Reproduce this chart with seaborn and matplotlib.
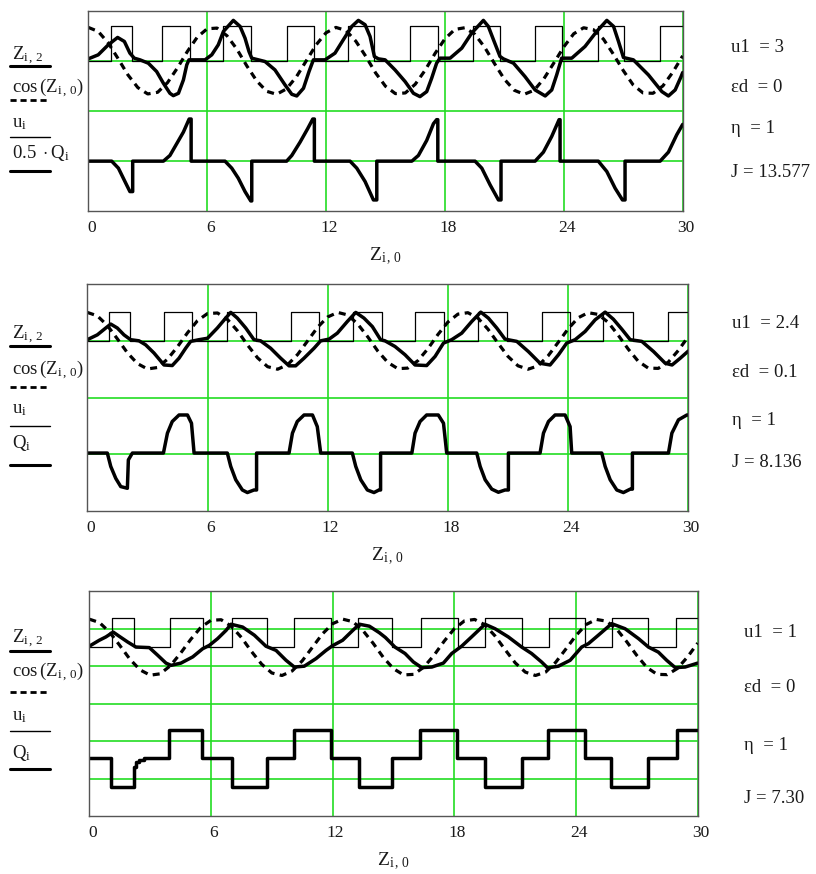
import matplotlib
matplotlib.use("Agg")
import matplotlib.pyplot as plt
import matplotlib.transforms as mtransforms
from matplotlib.lines import Line2D
import seaborn as sns

# cos(Z_i,0), read every 0.5 along Z_i,0 (same in all three panels)
COS_X = [0, 0.5, 1, 1.5, 2, 2.5, 3, 3.5, 4, 4.5, 5, 5.5, 6, 6.5, 7, 7.5, 8, 8.5, 9, 9.5,
         10, 10.5, 11, 11.5, 12, 12.5, 13, 13.5, 14, 14.5, 15, 15.5, 16, 16.5, 17, 17.5,
         18, 18.5, 19, 19.5, 20, 20.5, 21, 21.5, 22, 22.5, 23, 23.5, 24, 24.5, 25, 25.5,
         26, 26.5, 27, 27.5, 28, 28.5, 29, 29.5, 30]
COS_Y = [1.00, 0.88, 0.54, 0.07, -0.42, -0.80, -0.99, -0.94, -0.65, -0.21, 0.28, 0.71,
         0.96, 0.98, 0.75, 0.35, -0.15, -0.60, -0.91, -1.00, -0.84, -0.48, 0.00, 0.48,
         0.84, 1.00, 0.91, 0.59, 0.14, -0.36, -0.76, -0.98, -0.96, -0.70, -0.28, 0.22,
         0.66, 0.94, 0.99, 0.80, 0.41, -0.08, -0.55, -0.88, -1.00, -0.88, -0.53, -0.06,
         0.42, 0.81, 0.99, 0.93, 0.65, 0.20, -0.29, -0.72, -0.96, -0.97, -0.75, -0.34, 0.15]

# ---- panel 1 (u1 = 3) ----
P1_U_X = [0, 1.15, 2.19, 3.74, 5.13, 6.78, 8.20, 10.01, 11.41, 13.13, 14.44, 16.24, 17.67,
          19.44, 20.78, 22.55, 23.90, 25.74, 27.06, 28.86, 30]
P1_U_Y = [0, 1.05, 0, 1.05, 0, 1.05, 0, 1.05, 0, 1.05, 0, 1.05, 0, 1.05, 0, 1.05, 0, 1.05,
          0, 1.05, 1.05]
P1_Z_X = [0, 0.5, 1.01, 1.48, 1.82, 2.1, 2.32, 2.61, 3.03, 3.45, 3.79, 4.12, 4.29, 4.55,
          4.8, 4.97, 5.08, 5.89, 6.23, 6.56, 6.82, 7.32, 7.66, 7.91, 8.11, 8.25, 8.92, 9.42,
          9.93, 10.27, 10.52, 10.86, 11.14, 11.36, 11.95, 12.45, 12.87, 13.3, 13.63, 13.97,
          14.22, 14.44, 14.64, 14.98, 15.48, 15.99, 16.41, 16.74, 17.08, 17.33, 17.58,
          17.75, 18.26, 18.85, 19.35, 19.94, 20.19, 20.45, 20.78, 20.95, 21.46, 22.04,
          22.55, 23.06, 23.39, 23.64, 23.89, 24.4, 25.07, 25.66, 26.17, 26.51, 26.76,
          27.01, 27.51, 28.27, 28.95, 29.28, 29.62, 29.92, 30]
P1_Z_Y = [0.06, 0.18, 0.48, 0.70, 0.58, 0.23, 0.08, 0.03, -0.07, -0.32, -0.67, -0.97,
          -1.04, -0.97, -0.57, -0.12, 0.03, 0.03, 0.18, 0.48, 0.88, 1.21, 1.03, 0.68, 0.28,
          0.08, -0.02, -0.27, -0.72, -1.0, -1.05, -0.82, -0.32, 0.03, 0.03, 0.23, 0.63,
          1.03, 1.21, 1.08, 0.73, 0.13, 0.06, 0.03, -0.27, -0.62, -0.97, -1.07, -0.92,
          -0.52, -0.07, 0.08, 0.08, 0.38, 0.83, 1.21, 1.03, 0.63, 0.13, 0.06, -0.07, -0.47,
          -0.87, -1.05, -0.87, -0.42, 0.08, 0.08, 0.43, 0.88, 1.21, 1.03, 0.58, 0.10, 0.03,
          -0.42, -0.92, -1.05, -0.87, -0.47, -0.35]
P1_Q_X = [0, 1.18, 1.52, 1.85, 2.10, 2.24, 2.24, 3.79, 4.12, 4.46, 4.80, 5.09, 5.19, 5.19,
          6.90, 7.24, 7.57, 7.91, 8.20, 8.25, 8.25, 10.01, 10.27, 10.69, 11.07, 11.33,
          11.41, 11.41, 13.21, 13.55, 13.97, 14.39, 14.56, 14.56, 16.33, 16.66, 17.08,
          17.42, 17.58, 17.64, 17.64, 19.52, 19.86, 20.28, 20.70, 20.83, 20.83, 22.55,
          22.97, 23.39, 23.76, 23.81, 23.81, 25.74, 26.17, 26.59, 26.96, 27.09, 27.09,
          28.86, 29.28, 29.70, 30.0]
P1_Q_Y = [-3.0, -3.0, -3.21, -3.61, -3.91, -3.91, -3.0, -3.0, -2.83, -2.48, -2.13, -1.74,
          -1.74, -3.0, -3.0, -3.21, -3.51, -3.91, -4.19, -4.19, -3.0, -3.0, -2.83, -2.43,
          -2.03, -1.74, -1.74, -3.0, -3.0, -3.21, -3.61, -4.16, -4.16, -3.0, -3.0, -2.83,
          -2.38, -1.88, -1.76, -1.76, -3.0, -3.0, -3.21, -3.71, -4.16, -4.16, -3.0, -3.0,
          -2.73, -2.26, -1.76, -1.76, -3.0, -3.0, -3.31, -3.81, -4.16, -4.16, -3.0, -3.0,
          -2.73, -2.21, -1.9]

# ---- panel 2 (u1 = 2.4) ----
P2_U_X = [0, 1.08, 2.12, 3.83, 5.21, 6.99, 8.41, 10.15, 11.57, 13.28, 14.69, 16.36, 17.82,
          19.52, 20.94, 22.69, 24.07, 25.76, 27.26, 28.98, 30]
P2_U_Y = [0, 1.03, 0, 1.03, 0, 1.03, 0, 1.03, 0, 1.03, 0, 1.03, 0, 1.03, 0, 1.03, 0, 1.03,
          0, 1.03, 1.03]
P2_Z_X = [0, 0.5, 0.92, 1.17, 1.5, 1.83, 2.16, 2.58, 2.91, 3.33, 3.83, 4.24, 4.58, 4.91,
          5.16, 5.58, 6.0, 6.49, 6.91, 7.16, 7.49, 7.91, 8.32, 8.65, 9.15, 9.65, 10.07,
          10.4, 10.82, 11.32, 11.65, 12.07, 12.48, 12.98, 13.4, 13.81, 14.23, 14.64, 14.86,
          15.36, 15.86, 16.36, 16.94, 17.36, 17.78, 18.19, 18.69, 19.19, 19.64, 20.02,
          20.44, 20.85, 21.44, 22.02, 22.6, 23.1, 23.52, 23.93, 24.35, 24.85, 25.35, 25.85,
          26.26, 26.68, 27.1, 27.68, 28.27, 28.85, 29.19, 29.6, 30]
P2_Z_Y = [0.04, 0.21, 0.45, 0.59, 0.45, 0.21, 0.04, 0, -0.14, -0.43, -0.85, -0.87, -0.61,
          -0.26, -0.02, 0.04, 0.09, 0.45, 0.8, 1.0, 0.8, 0.45, 0.04, 0, -0.26, -0.61, -0.88,
          -0.88, -0.61, -0.26, 0, 0.06, 0.27, 0.68, 1.0, 0.8, 0.5, 0.04, 0, -0.2, -0.49,
          -0.85, -0.87, -0.55, -0.08, 0.04, 0.27, 0.68, 1.01, 0.8, 0.45, 0.06, -0.02, -0.38,
          -0.79, -0.85, -0.49, -0.08, 0.04, 0.33, 0.74, 1.01, 0.76, 0.41, 0.04, -0.02,
          -0.38, -0.79, -0.85, -0.61, -0.36]
P2_Q_X = [0, 1.0, 1.17, 1.42, 1.67, 2.0, 2.05, 2.25, 3.8, 4.0, 4.24, 4.58, 5.0, 5.2, 5.33,
          6.99, 7.16, 7.41, 7.74, 7.99, 8.32, 8.45, 8.45, 10.07, 10.24, 10.48, 10.82, 11.24,
          11.48, 11.65, 13.23, 13.4, 13.65, 13.98, 14.31, 14.56, 14.64, 14.64, 16.2, 16.36,
          16.61, 16.94, 17.52, 17.78, 17.94, 19.44, 19.61, 19.86, 20.19, 20.52, 20.85,
          21.02, 21.02, 22.6, 22.77, 23.02, 23.35, 23.85, 24.1, 24.18, 25.68, 25.85, 26.1,
          26.43, 26.76, 27.1, 27.21, 27.21, 29.01, 29.18, 29.51, 29.93, 30]
P2_Q_Y = [-3.95, -3.95, -4.42, -4.84, -5.13, -5.19, -4.19, -3.95, -3.95, -3.25, -2.84,
          -2.61, -2.61, -2.9, -3.95, -3.95, -4.42, -4.89, -5.25, -5.34, -5.25, -5.25, -3.95,
          -3.95, -3.25, -2.84, -2.61, -2.61, -3.02, -3.95, -3.95, -4.42, -4.89, -5.25,
          -5.34, -5.25, -5.25, -3.95, -3.95, -3.25, -2.84, -2.61, -2.61, -2.9, -3.95, -3.95,
          -4.42, -4.89, -5.22, -5.33, -5.25, -5.25, -3.95, -3.95, -3.25, -2.84, -2.61,
          -2.61, -3.02, -3.95, -3.95, -4.42, -4.89, -5.25, -5.34, -5.22, -5.22, -3.95,
          -3.95, -3.25, -2.78, -2.61, -2.61]

# ---- panel 3 (u1 = 1) ----
P3_U_X = [0, 1.12, 2.22, 3.98, 5.59, 7.04, 8.75, 10.11, 11.92, 13.23, 14.94, 16.34, 18.17,
          19.51, 21.32, 22.67, 24.44, 25.76, 27.57, 28.93, 30]
P3_U_Y = [0, 1.03, 0, 1.03, 0, 1.03, 0, 1.03, 0, 1.03, 0, 1.03, 0, 1.03, 0, 1.03, 0, 1.03,
          0, 1.03, 1.03]
P3_Z_X = [0, 0.49, 0.82, 1.18, 1.48, 1.89, 2.3, 2.96, 3.37, 3.78, 4.03, 4.52, 5.1, 5.59,
          5.92, 6.33, 6.74, 6.99, 7.56, 8.14, 8.71, 9.21, 9.7, 10.11, 10.6, 11.18, 11.67,
          12.0, 12.49, 12.99, 13.32, 13.81, 14.3, 14.6, 15.07, 15.57, 15.98, 16.39, 16.89,
          17.46, 17.87, 18.36, 18.85, 19.51, 20.01, 20.66, 21.32, 21.81, 22.3, 22.6, 23.13,
          23.71, 24.28, 24.61, 25.1, 25.76, 26.42, 27.08, 27.57, 28.06, 28.47, 28.89, 29.38,
          30]
P3_Z_Y = [0.04, 0.25, 0.37, 0.54, 0.39, 0.19, 0.01, -0.01, -0.28, -0.56, -0.64, -0.56,
          -0.34, -0.05, 0.07, 0.31, 0.6, 0.82, 0.72, 0.43, 0.04, -0.11, -0.46, -0.7, -0.67,
          -0.4, -0.11, 0.06, 0.25, 0.6, 0.82, 0.75, 0.52, 0.35, 0.01, -0.22, -0.52, -0.72,
          -0.7, -0.56, -0.22, 0.04, 0.37, 0.82, 0.66, 0.37, 0.01, -0.22, -0.52, -0.73,
          -0.67, -0.46, 0.01, 0.13, 0.43, 0.84, 0.66, 0.31, 0.01, -0.17, -0.46, -0.72, -0.7,
          -0.56]
P3_Q_X = [0, 1.07, 2.22, 2.30, 2.45, 2.70, 3.91, 5.56, 7.02, 8.76, 10.11, 11.92, 13.28,
          14.94, 16.31, 18.12, 19.51, 21.32, 22.64, 24.44, 25.73, 27.57, 28.97, 30]
P3_Q_Y = [-3.93, -4.95, -4.25, -4.08, -3.99, -3.93, -2.95, -3.93, -4.95, -3.93, -2.95,
          -3.93, -4.95, -3.93, -2.95, -3.93, -4.95, -3.93, -2.95, -3.93, -4.95, -3.93,
          -2.95, -2.95]

TICKS = [0, 6, 12, 18, 24, 30]
PARAMS = [["u1  = 3", "\u03b5d  = 0", "\u03b7  = 1", "J = 13.577"],
          ["u1  = 2.4", "\u03b5d  = 0.1", "\u03b7  = 1", "J = 8.136"],
          ["u1  = 1", "\u03b5d  = 0", "\u03b7  = 1", "J = 7.30"]]

sns.set_style("white")
plt.rcParams["font.family"] = ["Liberation Serif", "DejaVu Serif"]
plt.rcParams["mathtext.fontset"] = "custom"
plt.rcParams["mathtext.rm"] = "Liberation Serif"
plt.rcParams["mathtext.it"] = "Liberation Serif:italic"

W, H = 816, 874
fig = plt.figure(figsize=(W / 100, H / 100), dpi=100)
GREEN = "#22dd22"
INK = "#1a1a1a"


def fx(px):
    return px / W


def fy(py):
    return 1 - py / H


def draw_panel(box, ylim, ygrid, ux, uy, zx, zy, qx, qy, q_steps):
    left, top, right, bottom = box
    ax = fig.add_axes([fx(left), fy(bottom), (right - left) / W, (bottom - top) / H])
    kw = dict(ax=ax, estimator=None, sort=False, color="black")
    sns.lineplot(x=ux, y=uy, lw=0.9, drawstyle="steps-post", **kw)
    sns.lineplot(x=COS_X, y=COS_Y, lw=2.3, linestyle=(0, (2.2, 1.7)), **kw)
    sns.lineplot(x=zx, y=zy, lw=2.5, **kw)
    sns.lineplot(x=qx, y=qy, lw=2.5, drawstyle="steps-post" if q_steps else "default", **kw)
    ax.set_xlim(0, 30)
    ax.set_ylim(*ylim)
    ax.set_xticks(TICKS)
    ax.set_xticklabels([str(t) for t in TICKS], fontsize=12.5)
    ax.set_yticks(ygrid)
    ax.set_yticklabels([])
    ax.set_xlabel("")
    ax.set_ylabel("")
    ax.grid(True, color=GREEN, lw=1.2)
    ax.set_axisbelow(True)
    ax.tick_params(length=0, pad=6, colors=INK)
    shift = mtransforms.ScaledTranslation(3 / 100, 0, fig.dpi_scale_trans)
    for lab in ax.get_xticklabels():
        lab.set_transform(lab.get_transform() + shift)
    for s in ax.spines.values():
        s.set_color("#555555")
        s.set_linewidth(1.0)
    fig.text(fx((left + right) / 2), fy(bottom + 45), r"$\mathrm{Z_{i\,,\,0}}$",
             ha="center", va="center", fontsize=14, color=INK)
    return ax


def legend_block(labels, base_ys, line_ys):
    styles = [dict(lw=2.2, ls="-"), dict(lw=2.0, ls=(0, (2.2, 1.4))),
              dict(lw=1.0, ls="-"), dict(lw=2.2, ls="-")]
    for text, by, ly, st in zip(labels, base_ys, line_ys, styles):
        fig.text(fx(12), fy(by), text, ha="left", va="baseline", fontsize=13.5, color=INK)
        fig.add_artist(Line2D([fx(10), fx(50)], [fy(ly), fy(ly)], color="black",
                              transform=fig.transFigure, **st))


def param_block(texts, x, base_ys):
    for t, by in zip(texts, base_ys):
        fig.text(fx(x), fy(by), t, ha="left", va="baseline", fontsize=13.5, color=INK)


Z2 = r"$\mathrm{Z_{i\,,\,2}}$"
COSL = r"$\mathrm{cos\,(Z_{i\,,\,0})}$"
UL = r"$\mathrm{u_{i}}$"

draw_panel((88.3, 10.7, 682.7, 211.3), (-4.5, 1.5), [0, -1.5, -3],
           P1_U_X, P1_U_Y, P1_Z_X, P1_Z_Y, P1_Q_X, P1_Q_Y, False)
legend_block([Z2, COSL, UL, r"$\mathrm{0.5\ \cdot Q_{i}}$"],
             [60, 92, 127, 158], [66, 100, 136.5, 170.5])
param_block(PARAMS[0], 731, [52, 92, 133, 177])

draw_panel((87.3, 284, 688.3, 511.3), (-6, 2), [0, -2, -4],
           P2_U_X, P2_U_Y, P2_Z_X, P2_Z_Y, P2_Q_X, P2_Q_Y, False)
legend_block([Z2, COSL, UL, r"$\mathrm{Q_{i}}$"],
             [339, 374, 413, 448], [346, 386.5, 425.5, 465])
param_block(PARAMS[1], 732, [328, 377, 425, 467])

draw_panel((89.3, 591, 697.7, 816.3), (-6, 2), [2 / 3, -2 / 3, -2, -10 / 3, -14 / 3],
           P3_U_X, P3_U_Y, P3_Z_X, P3_Z_Y, P3_Q_X, P3_Q_Y, True)
legend_block([Z2, COSL, UL, r"$\mathrm{Q_{i}}$"],
             [643, 676, 720, 758], [650.5, 691.5, 730.5, 769])
param_block(PARAMS[2], 744, [637, 692, 750, 803])

fig.savefig("out.png", dpi=100)
